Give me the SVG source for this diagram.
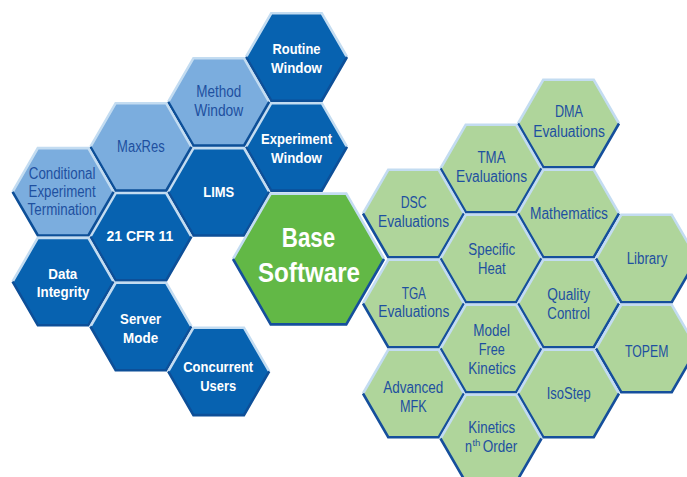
<svg xmlns="http://www.w3.org/2000/svg" xmlns:xlink="http://www.w3.org/1999/xlink" width="687" height="477" viewBox="0 0 687 477">
<style>
.dark{fill:#0762b0}
.light{fill:#7badde}
.green{fill:#afd59b}
.base{fill:#62b846}
.hi{fill:none;stroke:#c3dcf1;stroke-width:2.6;stroke-linejoin:miter}
.lo{fill:none;stroke:#154f9c;stroke-width:2.6;stroke-linejoin:miter}
.lo-d{fill:none;stroke:#0d4f98;stroke-width:2.6;stroke-linejoin:miter}
text{font-family:"Liberation Sans",Arial,sans-serif;text-anchor:middle}
.tw{fill:#ffffff;font-weight:bold;font-size:15.5px}
.tb{fill:#1e50a0;font-size:16px}
.tbase{fill:#ffffff;font-weight:bold;font-size:28px}
.st{text-anchor:start}
.sup{font-size:9px}
</style>
<defs>
<polygon id="hex" points="-50.5,0 -25.25,-43.7 25.25,-43.7 50.5,0 25.25,43.7 -25.25,43.7"/>
<polyline id="hexTop" points="-50.5,0 -25.25,-43.7 25.25,-43.7 50.5,0"/>
<polyline id="hexBot" points="50.5,0 25.25,43.7 -25.25,43.7 -50.5,0"/>
<polygon id="bighex" points="-75.5,0 -37.75,-65.4 37.75,-65.4 75.5,0 37.75,65.4 -37.75,65.4"/>
<polyline id="bigTop" points="-75.5,0 -37.75,-65.4 37.75,-65.4 75.5,0"/>
<polyline id="bigBot" points="75.5,0 37.75,65.4 -37.75,65.4 -75.5,0"/>
</defs>
<rect width="687" height="477" fill="#ffffff"/>
<g id="connectors"></g>

<g id="routine-window" transform="translate(296.5,57)">
<use xlink:href="#hex" class="dark"/><use xlink:href="#hexTop" class="hi"/><use xlink:href="#hexBot" class="lo-d"/>
<text class="tw" x="0" y="-2.7" textLength="48" lengthAdjust="spacingAndGlyphs">Routine</text>
<text class="tw" x="0" y="15.7" textLength="51" lengthAdjust="spacingAndGlyphs">Window</text>
</g>
<g id="experiment-window" transform="translate(296.5,146.9)">
<use xlink:href="#hex" class="dark"/><use xlink:href="#hexTop" class="hi"/><use xlink:href="#hexBot" class="lo-d"/>
<text class="tw" x="0" y="-2.6" textLength="71" lengthAdjust="spacingAndGlyphs">Experiment</text>
<text class="tw" x="0" y="15.8" textLength="51" lengthAdjust="spacingAndGlyphs">Window</text>
</g>
<g id="method-window" transform="translate(218.7,101.9)">
<use xlink:href="#hex" class="light"/><use xlink:href="#hexTop" class="hi"/><use xlink:href="#hexBot" class="lo-d"/>
<text class="tb" x="0" y="-4.6" textLength="45" lengthAdjust="spacingAndGlyphs">Method</text>
<text class="tb" x="0" y="14.1" textLength="49" lengthAdjust="spacingAndGlyphs">Window</text>
</g>
<g id="lims" transform="translate(218.7,191.8)">
<use xlink:href="#hex" class="dark"/><use xlink:href="#hexTop" class="hi"/><use xlink:href="#hexBot" class="lo-d"/>
<text class="tw" x="0" y="4.9" textLength="31" lengthAdjust="spacingAndGlyphs">LIMS</text>
</g>
<g id="maxres" transform="translate(140.9,146.9)">
<use xlink:href="#hex" class="light"/><use xlink:href="#hexTop" class="hi"/><use xlink:href="#hexBot" class="lo-d"/>
<text class="tb" x="0" y="5.4" textLength="47.6" lengthAdjust="spacingAndGlyphs">MaxRes</text>
</g>
<g id="cfr" transform="translate(140.9,236.7)">
<use xlink:href="#hex" class="dark"/><use xlink:href="#hexTop" class="hi"/><use xlink:href="#hexBot" class="lo-d"/>
<text class="tw" x="-1" y="4.3" textLength="67" lengthAdjust="spacingAndGlyphs">21 CFR 11</text>
</g>
<g id="conditional" transform="translate(63.1,191.8)">
<use xlink:href="#hex" class="light"/><use xlink:href="#hexTop" class="hi"/><use xlink:href="#hexBot" class="lo-d"/>
<text class="tb" x="-1" y="-12.5" textLength="66.7" lengthAdjust="spacingAndGlyphs">Conditional</text>
<text class="tb" x="-1" y="5.5" textLength="67" lengthAdjust="spacingAndGlyphs">Experiment</text>
<text class="tb" x="-1" y="23.2" textLength="69" lengthAdjust="spacingAndGlyphs">Termination</text>
</g>
<g id="data-integrity" transform="translate(63.1,281.6)">
<use xlink:href="#hex" class="dark"/><use xlink:href="#hexTop" class="hi"/><use xlink:href="#hexBot" class="lo-d"/>
<text class="tw" x="-0.3" y="-2.3" textLength="29" lengthAdjust="spacingAndGlyphs">Data</text>
<text class="tw" x="0" y="15.4" textLength="52.6" lengthAdjust="spacingAndGlyphs">Integrity</text>
</g>
<g id="server-mode" transform="translate(140.9,326.5)">
<use xlink:href="#hex" class="dark"/><use xlink:href="#hexTop" class="hi"/><use xlink:href="#hexBot" class="lo-d"/>
<text class="tw" x="-0.3" y="-2.2" textLength="41" lengthAdjust="spacingAndGlyphs">Server</text>
<text class="tw" x="-0.3" y="16.8" textLength="35" lengthAdjust="spacingAndGlyphs">Mode</text>
</g>
<g id="concurrent-users" transform="translate(218.7,371.4)">
<use xlink:href="#hex" class="dark"/><use xlink:href="#hexTop" class="hi"/><use xlink:href="#hexBot" class="lo-d"/>
<text class="tw" x="-0.5" y="0.3" textLength="70" lengthAdjust="spacingAndGlyphs">Concurrent</text>
<text class="tw" x="-0.5" y="19.3" textLength="36" lengthAdjust="spacingAndGlyphs">Users</text>
</g>

<g id="base-software" transform="translate(308.5,259)">
<use xlink:href="#bighex" class="base"/><use xlink:href="#bigTop" class="hi"/><use xlink:href="#bigBot" class="lo"/>
<text class="tbase" x="0" y="-12" textLength="53.3" lengthAdjust="spacingAndGlyphs">Base</text>
<text class="tbase" x="0.5" y="22.7" textLength="102" lengthAdjust="spacingAndGlyphs">Software</text>
</g>

<g id="dma" transform="translate(568.5,123.5)">
<use xlink:href="#hex" class="green"/><use xlink:href="#hexTop" class="hi"/><use xlink:href="#hexBot" class="lo"/>
<text class="tb" x="0.5" y="-6.2" textLength="28" lengthAdjust="spacingAndGlyphs">DMA</text>
<text class="tb" x="0.5" y="13.2" textLength="71.7" lengthAdjust="spacingAndGlyphs">Evaluations</text>
</g>
<g id="tma" transform="translate(491,168.5)">
<use xlink:href="#hex" class="green"/><use xlink:href="#hexTop" class="hi"/><use xlink:href="#hexBot" class="lo"/>
<text class="tb" x="0.5" y="-5.2" textLength="28" lengthAdjust="spacingAndGlyphs">TMA</text>
<text class="tb" x="0.5" y="13.2" textLength="71" lengthAdjust="spacingAndGlyphs">Evaluations</text>
</g>
<g id="dsc" transform="translate(413.5,213.5)">
<use xlink:href="#hex" class="green"/><use xlink:href="#hexTop" class="hi"/><use xlink:href="#hexBot" class="lo"/>
<text class="tb" x="0.2" y="-5.2" textLength="26" lengthAdjust="spacingAndGlyphs">DSC</text>
<text class="tb" x="0" y="13.2" textLength="71" lengthAdjust="spacingAndGlyphs">Evaluations</text>
</g>
<g id="mathematics" transform="translate(568.5,213.5)">
<use xlink:href="#hex" class="green"/><use xlink:href="#hexTop" class="hi"/><use xlink:href="#hexBot" class="lo"/>
<text class="tb" x="0.5" y="5.8" textLength="78" lengthAdjust="spacingAndGlyphs">Mathematics</text>
</g>
<g id="specific-heat" transform="translate(491,258.5)">
<use xlink:href="#hex" class="green"/><use xlink:href="#hexTop" class="hi"/><use xlink:href="#hexBot" class="lo"/>
<text class="tb" x="0.7" y="-3.5" textLength="46.7" lengthAdjust="spacingAndGlyphs">Specific</text>
<text class="tb" x="0.8" y="15.8" textLength="27.7" lengthAdjust="spacingAndGlyphs">Heat</text>
</g>
<g id="library" transform="translate(646.5,258.5)">
<use xlink:href="#hex" class="green"/><use xlink:href="#hexTop" class="hi"/><use xlink:href="#hexBot" class="lo"/>
<text class="tb" x="0.5" y="5" textLength="40.7" lengthAdjust="spacingAndGlyphs">Library</text>
</g>
<g id="tga" transform="translate(413.5,303.5)">
<use xlink:href="#hex" class="green"/><use xlink:href="#hexTop" class="hi"/><use xlink:href="#hexBot" class="lo"/>
<text class="tb" x="0.3" y="-4.5" textLength="24.3" lengthAdjust="spacingAndGlyphs">TGA</text>
<text class="tb" x="0.3" y="13.8" textLength="71" lengthAdjust="spacingAndGlyphs">Evaluations</text>
</g>
<g id="quality-control" transform="translate(568.5,303.5)">
<use xlink:href="#hex" class="green"/><use xlink:href="#hexTop" class="hi"/><use xlink:href="#hexBot" class="lo"/>
<text class="tb" x="0.2" y="-3.7" textLength="42.7" lengthAdjust="spacingAndGlyphs">Quality</text>
<text class="tb" x="0.2" y="15.8" textLength="42.7" lengthAdjust="spacingAndGlyphs">Control</text>
</g>
<g id="model-free-kinetics" transform="translate(491,348.5)">
<use xlink:href="#hex" class="green"/><use xlink:href="#hexTop" class="hi"/><use xlink:href="#hexBot" class="lo"/>
<text class="tb" x="0.7" y="-12.5" textLength="36.7" lengthAdjust="spacingAndGlyphs">Model</text>
<text class="tb" x="0.7" y="6.5" textLength="26" lengthAdjust="spacingAndGlyphs">Free</text>
<text class="tb" x="1" y="25.5" textLength="47.3" lengthAdjust="spacingAndGlyphs">Kinetics</text>
</g>
<g id="topem" transform="translate(646.5,348.5)">
<use xlink:href="#hex" class="green"/><use xlink:href="#hexTop" class="hi"/><use xlink:href="#hexBot" class="lo"/>
<text class="tb" x="0.2" y="8" textLength="43.3" lengthAdjust="spacingAndGlyphs">TOPEM</text>
</g>
<g id="advanced-mfk" transform="translate(413.5,393.5)">
<use xlink:href="#hex" class="green"/><use xlink:href="#hexTop" class="hi"/><use xlink:href="#hexBot" class="lo"/>
<text class="tb" x="-0.2" y="-0.2" textLength="60" lengthAdjust="spacingAndGlyphs">Advanced</text>
<text class="tb" x="-0.2" y="18.2" textLength="26.7" lengthAdjust="spacingAndGlyphs">MFK</text>
</g>
<g id="isostep" transform="translate(568.5,393.5)">
<use xlink:href="#hex" class="green"/><use xlink:href="#hexTop" class="hi"/><use xlink:href="#hexBot" class="lo"/>
<text class="tb" x="0.2" y="5.3" textLength="44" lengthAdjust="spacingAndGlyphs">IsoStep</text>
</g>
<g id="kinetics-nth-order" transform="translate(491,438.5)">
<use xlink:href="#hex" class="green"/><use xlink:href="#hexTop" class="hi"/><use xlink:href="#hexBot" class="lo"/>
<text class="tb" x="0.7" y="-5.8" textLength="46.7" lengthAdjust="spacingAndGlyphs">Kinetics</text>
<text class="tb st" x="-26" y="13.2" textLength="7" lengthAdjust="spacingAndGlyphs">n</text>
<text class="tb sup st" x="-18.6" y="7.5" textLength="8" lengthAdjust="spacingAndGlyphs">th</text>
<text class="tb st" x="-8.3" y="13.2" textLength="34.6" lengthAdjust="spacingAndGlyphs">Order</text>
</g>
</svg>
